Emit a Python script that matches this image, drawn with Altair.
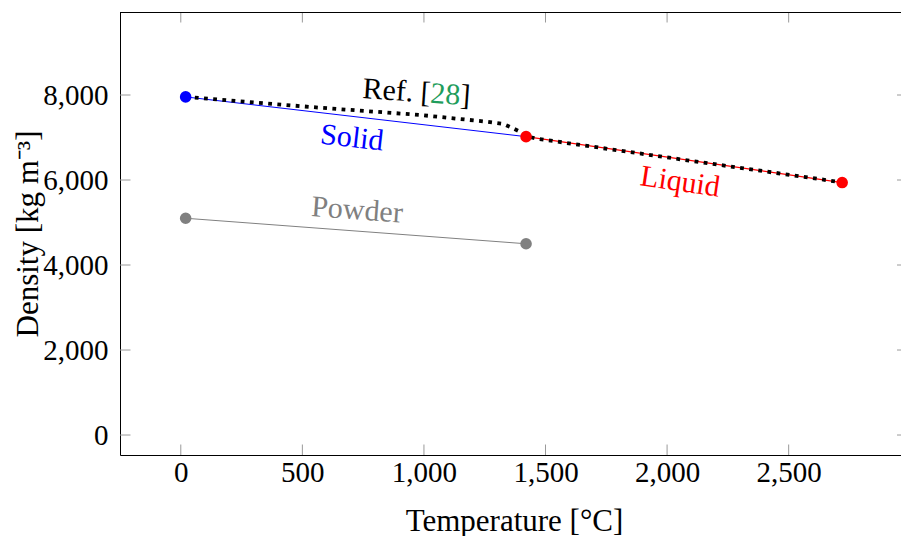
import altair as alt
import pandas as pd

# ---- data ----
temp_solid = [20, 1420]
dens_solid = [7955, 7020]
temp_liquid = [1420, 2720]
dens_liquid = [7020, 5940]
temp_powder = [20, 1420]
dens_powder = [5100, 4500]
temp_ref = [20, 575, 985, 1258, 1327, 1361, 1395, 1420, 1470, 2100, 2720]
dens_ref = [7955, 7700, 7530, 7372, 7318, 7231, 7136, 7030, 6968, 6450, 5945]

x_ticks = [0, 500, 1000, 1500, 2000, 2500]
y_ticks = [0, 2000, 4000, 6000, 8000]

label_text = ["Solid", "Liquid", "Powder"]
label_x = [704, 2054, 725]
label_y = [6988, 5953, 5285]
label_color = ["#0000ff", "#ff0000", "#808080"]
label_angle = [6.5, 8.5, 4.2]

ref_label_parts = ["Ref. [", "28", "]"]
ref_label_colors = ["black", "#1f9d5c", "black"]
ref_label_x = 745
ref_label_y = 7929

W, H = 781, 443
FONT = "Liberation Serif"

xs = alt.Scale(domain=[-250, 2962], nice=False, zero=False)
ys = alt.Scale(domain=[-470, 9953], nice=False, zero=False)

def series_df(t, d):
    return pd.DataFrame({"T": t, "D": d})

x_axis = alt.Axis(values=x_ticks, format=",d", ticks=False, grid=False,
                  domainColor="black", domainWidth=1,
                  labelFont=FONT, labelFontSize=29, labelColor="black",
                  labelPadding=3, labelFlush=False, labelOverlap=False,
                  title="Temperature [°C]", titleFont=FONT, titleFontSize=31,
                  titleFontWeight="normal", titleColor="black",
                  titleX=394, titleY=75, titleBaseline="alphabetic",
                  titleAlign="center")
y_axis = alt.Axis(values=y_ticks, format=",d", ticks=False, grid=False,
                  domainColor="black", domainWidth=1,
                  labelFont=FONT, labelFontSize=29, labelColor="black",
                  labelPadding=12, labelFlush=False, labelOverlap=False,
                  title="Density [kg m⁻³]", titleFont=FONT, titleFontSize=31,
                  titleFontWeight="normal", titleColor="black",
                  titleAngle=270, titleX=-83, titleY=221.5,
                  titleBaseline="alphabetic", titleAlign="center")

def X(f):
    return alt.X(f, scale=xs, axis=x_axis)

def Y(f):
    return alt.Y(f, scale=ys, axis=y_axis)

def line(t, d, color, width, **kw):
    return alt.Chart(series_df(t, d)).mark_line(color=color, strokeWidth=width, **kw).encode(
        x=X("T:Q"), y=Y("D:Q"))

solid = line(temp_solid, dens_solid, "#0000ff", 1)
liquid = line(temp_liquid, dens_liquid, "#ff0000", 1.2)
powder = line(temp_powder, dens_powder, "#808080", 1)
ref = line(temp_ref, dens_ref, "black", 3.8, strokeDash=[3.8, 5.4], strokeCap="butt")

pts = pd.DataFrame({
    "T": [temp_solid[0], temp_liquid[0], temp_liquid[1], temp_powder[0], temp_powder[1]],
    "D": [dens_solid[0], dens_liquid[0], dens_liquid[1], dens_powder[0], dens_powder[1]],
    "c": ["#0000ff", "#ff0000", "#ff0000", "#808080", "#808080"],
})
points = alt.Chart(pts).mark_circle(size=135, opacity=1).encode(
    x=X("T:Q"), y=Y("D:Q"), color=alt.Color("c:N", scale=None))

labels = []
for txt, lx, ly, c, a in zip(label_text, label_x, label_y, label_color, label_angle):
    labels.append(alt.Chart(pd.DataFrame({"T": [lx], "D": [ly], "s": [txt]})).mark_text(
        font=FONT, fontSize=30, color=c, angle=a, align="center", baseline="middle").encode(
        x=X("T:Q"), y=Y("D:Q"), text="s:N"))

offsets = [0, 68, 98]
for part, c, dx in zip(ref_label_parts, ref_label_colors, offsets):
    labels.append(alt.Chart(pd.DataFrame({"T": [ref_label_x], "D": [ref_label_y], "s": [part]})).mark_text(
        font=FONT, fontSize=30, color=c, angle=4, align="left", baseline="alphabetic", dx=dx).encode(
        x=X("T:Q"), y=Y("D:Q"), text="s:N"))

# frame top edge and inward ticks
xt = pd.DataFrame({"T": x_ticks})
yt = pd.DataFrame({"D": y_ticks})
tick_style = dict(color="#9a9a9a", strokeWidth=1)
bx = alt.Chart(xt).mark_rule(**tick_style).encode(
    x=X("T:Q"), y=alt.value(H), y2=alt.value(H - 10.5))
tx = alt.Chart(xt).mark_rule(**tick_style).encode(
    x=X("T:Q"), y=alt.value(0), y2=alt.value(10.5))
ly_ = alt.Chart(yt).mark_rule(**tick_style).encode(
    y=Y("D:Q"), x=alt.value(0), x2=alt.value(10.5))
ry = alt.Chart(yt).mark_rule(**tick_style).encode(
    y=Y("D:Q"), x=alt.value(W - 4), x2=alt.value(W))
top = alt.Chart(pd.DataFrame({"a": [0]})).mark_rule(color="black", strokeWidth=1).encode(
    x=alt.value(0), x2=alt.value(W), y=alt.value(0.5))

chart = alt.layer(solid, liquid, powder, ref, points, *labels, bx, tx, ly_, ry, top).properties(
    width=W, height=H,
    autosize=alt.AutoSizeParams(type="none"),
    padding={"left": 120, "top": 12, "right": 0, "bottom": 536 - 12 - H},
    background="white",
).configure_view(stroke=None)

chart.save("out.html", embed_options={"renderer": "svg", "actions": False})
